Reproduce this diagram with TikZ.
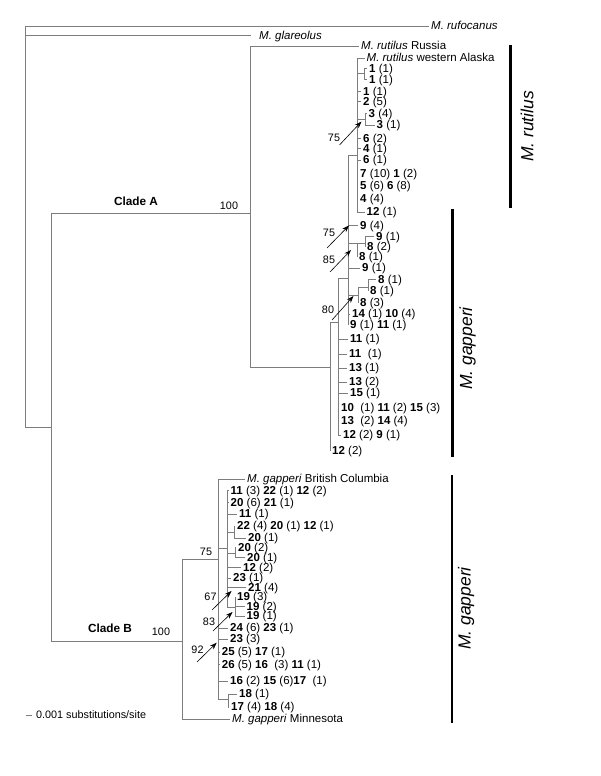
\documentclass[tikz,border=0pt]{standalone}
\usepackage{fontspec}
\setmainfont{Liberation Sans}
\usetikzlibrary{arrows.meta}
\definecolor{branch}{RGB}{125,125,125}
\newcommand{\hp}[2]{\textbf{#1} (#2)}
\newcommand{\tipsize}{\fontsize{11.5}{13}\selectfont}
\newcommand{\supsize}{\fontsize{10.8}{12}\selectfont}

\begin{document}
\begin{tikzpicture}[x=1pt, y=-1pt,
  br/.style={draw=branch, line width=0.85pt},
  tip/.style={anchor=west, inner xsep=2pt, inner ysep=0pt,
              text height=1.5ex, text depth=0pt, font=\tipsize},
  bs/.style={font=\supsize, inner sep=0pt},
  bsar/.style={-{Stealth[length=7pt, width=5pt]}, line width=0.6pt},
  clade/.style={font=\fontsize{11.8}{13}\selectfont\bfseries, inner sep=0pt},
  grpbar/.style={line width=2.6pt},
  grpname/.style={rotate=90, inner sep=0pt,
                  font=\fontsize{17.5}{20}\selectfont\itshape},
]
  \useasboundingbox (0,0) rectangle (600,776);

  % internal nodes
  \coordinate (root) at (25,427);
  \coordinate (nAB)  at (51,427);
  \coordinate (nA)   at (250.7,213);
  \coordinate (n330) at (330,367);
  \coordinate (n338) at (338,322);
  \coordinate (n348) at (348,278);
  \coordinate (nRut) at (357,155);
  \coordinate (n1)   at (364.5,73.8);
  \coordinate (n3)   at (365.5,119.5);
  \coordinate (n85)  at (357,243);
  \coordinate (n85b) at (365,243);
  \coordinate (n80)  at (358,295);
  \coordinate (n80b) at (368,287);
  \coordinate (nB)   at (182.7,641);
  \coordinate (nB75) at (218.3,559);
  \coordinate (nC1)  at (227.5,548);
  \coordinate (nD1)  at (234,532);
  \coordinate (nD2)  at (235,553);
  \coordinate (nE)   at (235,607);
  \coordinate (nG)   at (228,699);

  % outgroups
  \node[tip] (rufo) at (429,26) {\textit{M. rufocanus}};
  \node[tip, inner xsep=8pt] (glar) at (251,35.5) {\textit{M. glareolus}};
  \draw[br] (root) |- (rufo.west);
  \draw[br] (root) |- (glar.west);
  \draw[br] (root) |- (nAB);
  \draw[br] (nAB) |- (nA);
  \draw[br] (nAB) |- (nB);

  % clade A
  \node[tip] (russ) at (359,46) {\textit{M. rutilus} Russia};
  \draw[br] (nA) |- (russ.west);
  \draw[br] (nA) |- (n330);
  \draw[br] (n330) |- (n338);
  \draw[br] (n338) |- (n348);
  \draw[br] (n348) |- (nRut);

  \node[tip] (alas) at (364.5,58) {\textit{M. rutilus} western Alaska};
  \node[tip] (r01) at (367,68.3)  {\hp{1}{1}};
  \node[tip] (r02) at (367,79.3)  {\hp{1}{1}};
  \node[tip] (r03) at (361,91.7)  {\hp{1}{1}};
  \node[tip] (r04) at (361,101.7) {\hp{2}{5}};
  \node[tip] (r05) at (366.5,113.5) {\hp{3}{4}};
  \node[tip] (r06) at (374.5,125) {\hp{3}{1}};
  \node[tip] (r07) at (361,138.3) {\hp{6}{2}};
  \node[tip] (r08) at (361,148.3) {\hp{4}{1}};
  \node[tip] (r09) at (361,160)   {\hp{6}{1}};
  \node[tip] (r10) at (358,173.5) {\hp{7}{10} \hp{1}{2}};
  \node[tip] (r11) at (358,186)   {\hp{5}{6} \hp{6}{8}};
  \node[tip] (r12) at (358,198.5) {\hp{4}{4}};
  \node[tip] (r13) at (364.5,212) {\hp{12}{1}};
  \draw[br] (nRut) |- (alas.west);
  \draw[br] (nRut) |- (n1);
  \draw[br] (n1) |- (r01.west);
  \draw[br] (n1) |- (r02.west);
  \draw[br] (nRut) |- (r03.west);
  \draw[br] (nRut) |- (r04.west);
  \draw[br] (nRut) |- (n3);
  \draw[br] (n3) |- (r05.west);
  \draw[br] (n3) |- (r06.west);
  \draw[br] (nRut) |- (r07.west);
  \draw[br] (nRut) |- (r08.west);
  \draw[br] (nRut) |- (r09.west);
  \draw[br] (nRut) |- (r10.west);
  \draw[br] (nRut) |- (r11.west);
  \draw[br] (nRut) |- (r12.west);
  \draw[br] (nRut) |- (r13.west);

  \node[tip] (a01) at (358,225.5) {\hp{9}{4}};
  \node[tip] (a02) at (374,236.5) {\hp{9}{1}};
  \node[tip] (a03) at (365,247)   {\hp{8}{2}};
  \node[tip] (a04) at (357,257)   {\hp{8}{1}};
  \node[tip] (a05) at (360,268)   {\hp{9}{1}};
  \node[tip] (a06) at (376,279.5) {\hp{8}{1}};
  \node[tip] (a07) at (368,291)   {\hp{8}{1}};
  \node[tip] (a08) at (358,303)   {\hp{8}{3}};
  \node[tip] (a09) at (350,314)   {\hp{14}{1} \hp{10}{4}};
  \node[tip] (a10) at (348,325)   {\hp{9}{1} \hp{11}{1}};
  \draw[br] (n348) |- (a01.west);
  \draw[br] (n348) |- (n85);
  \draw[br] (n85) |- (n85b);
  \draw[br] (n85b) |- (a02.west);
  \draw[br] (n85b) |- (a03.west);
  \draw[br] (n85) |- (a04.west);
  \draw[br] (n348) |- (a05.west);
  \draw[br] (n348) |- (n80);
  \draw[br] (n80) |- (n80b);
  \draw[br] (n80b) |- (a06.west);
  \draw[br] (n80b) |- (a07.west);
  \draw[br] (n80) |- (a08.west);
  \draw[br] (n348) |- (a09.west);
  \draw[br] (n348) |- (a10.west);

  \node[tip] (a11) at (348,339)   {\hp{11}{1}};
  \node[tip] (a12) at (347,354)   {\textbf{11}\ \ (1)};
  \node[tip] (a13) at (347,368)   {\hp{13}{1}};
  \node[tip] (a14) at (347,382)   {\hp{13}{2}};
  \node[tip] (a15) at (348,393)   {\hp{15}{1}};
  \node[tip] (a16) at (339,408)   {\textbf{10}\ \ (1) \hp{11}{2} \hp{15}{3}};
  \node[tip] (a17) at (339,421)   {\textbf{13}\ \ (2) \hp{14}{4}};
  \node[tip] (a18) at (341,435)   {\hp{12}{2} \hp{9}{1}};
  \node[tip] (a19) at (330,450.5) {\hp{12}{2}};
  \foreach \t in {a11,a12,a13,a14,a15,a16,a17,a18}
    \draw[br] (n338) |- (\t.west);
  \draw[br] (n330) |- (a19.west);

  % clade B
  \node[tip] (bc)  at (245,479)   {\textit{M. gapperi} British Columbia};
  \node[tip] (mn)  at (230,719)   {\textit{M. gapperi} Minnesota};
  \draw[br] (nB) |- (nB75);
  \draw[br] (nB) |- (mn.west);
  \draw[br] (nB75) |- (bc.west);
  \draw[br] (nB75) |- (nC1);

  \node[tip] (b01) at (228.5,490.7) {\hp{11}{3} \hp{22}{1} \hp{12}{2}};
  \node[tip] (b02) at (228.5,502.7) {\hp{20}{6} \hp{21}{1}};
  \node[tip] (b03) at (237,514)     {\hp{11}{1}};
  \node[tip] (b04) at (235,526)     {\hp{22}{4} \hp{20}{1} \hp{12}{1}};
  \node[tip] (b05) at (246,538)     {\hp{20}{1}};
  \node[tip] (b06) at (236,547.5)   {\hp{20}{2}};
  \node[tip] (b07) at (245,557.5)   {\hp{20}{1}};
  \node[tip] (b08) at (241,567.7)   {\hp{12}{2}};
  \node[tip] (b09) at (231,578)     {\hp{23}{1}};
  \node[tip] (b10) at (246,587.5)   {\hp{21}{4}};
  \node[tip] (b11) at (235,597)     {\hp{19}{3}};
  \node[tip] (b12) at (244.5,606.5) {\hp{19}{2}};
  \node[tip] (b13) at (244.5,616)   {\hp{19}{1}};
  \draw[br] (nC1) |- (b01.west);
  \draw[br] (nC1) |- (b02.west);
  \draw[br] (nC1) |- (b03.west);
  \draw[br] (nC1) |- (nD1);
  \draw[br] (nD1) |- (b04.west);
  \draw[br] (nD1) |- (b05.west);
  \draw[br] (nC1) |- (nD2);
  \draw[br] (nD2) |- (b06.west);
  \draw[br] (nD2) |- (b07.west);
  \draw[br] (nC1) |- (b08.west);
  \draw[br] (nC1) |- (b09.west);
  \draw[br] (nC1) |- (b10.west);
  \draw[br] (nC1) |- (nE);
  \draw[br] (nE) |- (b11.west);
  \draw[br] (nE) |- (b12.west);
  \draw[br] (nE) |- (b13.west);

  \node[tip] (b14) at (228,628)     {\hp{24}{6} \hp{23}{1}};
  \node[tip] (b15) at (228,639)     {\hp{23}{3}};
  \node[tip] (b16) at (219.7,652)   {\hp{25}{5} \hp{17}{1}};
  \node[tip] (b17) at (219.7,664.5) {\hp{26}{5} \textbf{16}\ \ (3) \hp{11}{1}};
  \node[tip] (b18) at (228,681)     {\hp{16}{2} \textbf{15} (6)\textbf{17}\ \ (1)};
  \node[tip] (b19) at (237,694)     {\hp{18}{1}};
  \node[tip] (b20) at (229,707)     {\hp{17}{4} \hp{18}{4}};
  \foreach \t in {b14,b15,b16,b17,b18}
    \draw[br] (nB75) |- (\t.west);
  \draw[br] (nB75) |- (nG);
  \draw[br] (nG) |- (b19.west);
  \draw[br] (nG) |- (b20.west);

  % clade names and support values
  \node[clade] (cladeA) at (136,201) {Clade A};
  \node[clade] (cladeB) at (110,628) {Clade B};
  \node[bs] (sA100) at (229,206) {100};
  \node[bs] (sB100) at (161,632) {100};
  \node[bs] (sB75)  at (206,552) {75};

  \node[bs] (s75a) at (334,138) {75};
  \node[bs] (s75b) at (329,233) {75};
  \node[bs] (s85)  at (329,260) {85};
  \node[bs] (s80)  at (328,310) {80};
  \node[bs] (s67)  at (210.5,597) {67};
  \node[bs] (s83)  at (209,622) {83};
  \node[bs] (s92)  at (197.5,649.5) {92};

  \coordinate (t75a) at (339.5,145);   \coordinate (h75a) at (361.5,121.5);
  \coordinate (t75b) at (327,248);     \coordinate (h75b) at (349,225.5);
  \coordinate (t85)  at (330,272);     \coordinate (h85)  at (351,250);
  \coordinate (t80)  at (332,320);     \coordinate (h80)  at (353.5,296);
  \coordinate (t67)  at (212,610);     \coordinate (h67)  at (231.5,591);
  \coordinate (t83)  at (213,631);     \coordinate (h83)  at (232.5,612);
  \coordinate (t92)  at (197,662);     \coordinate (h92)  at (216.7,642.7);
  \foreach \a in {75a,75b,85,80,67,83,92}
    \draw[bsar] (t\a) -- (h\a);

  % species bars
  \coordinate (rutTop) at (510.7,45);  \coordinate (rutBot) at (510.7,208);
  \coordinate (gapATop) at (452.5,209); \coordinate (gapABot) at (452.5,457);
  \coordinate (gapBTop) at (452,475);  \coordinate (gapBBot) at (452,723);
  \draw[grpbar] (rutTop) -- (rutBot);
  \draw[grpbar] (gapATop) -- (gapABot);
  \draw[grpbar] (gapBTop) -- (gapBBot);
  \node[grpname] (rutName)  at (527,126.5) {M. rutilus};
  \node[grpname] (gapAName) at (467.5,348.5) {M. gapperi};
  \node[grpname] (gapBName) at (466,608.5) {M. gapperi};

  % scale
  \node[bs, anchor=west] (scale) at (36,715) {0.001 substitutions/site};
  \draw[br] ([xshift=-10pt]scale.west) -- ([xshift=-4pt]scale.west);
\end{tikzpicture}
\end{document}
